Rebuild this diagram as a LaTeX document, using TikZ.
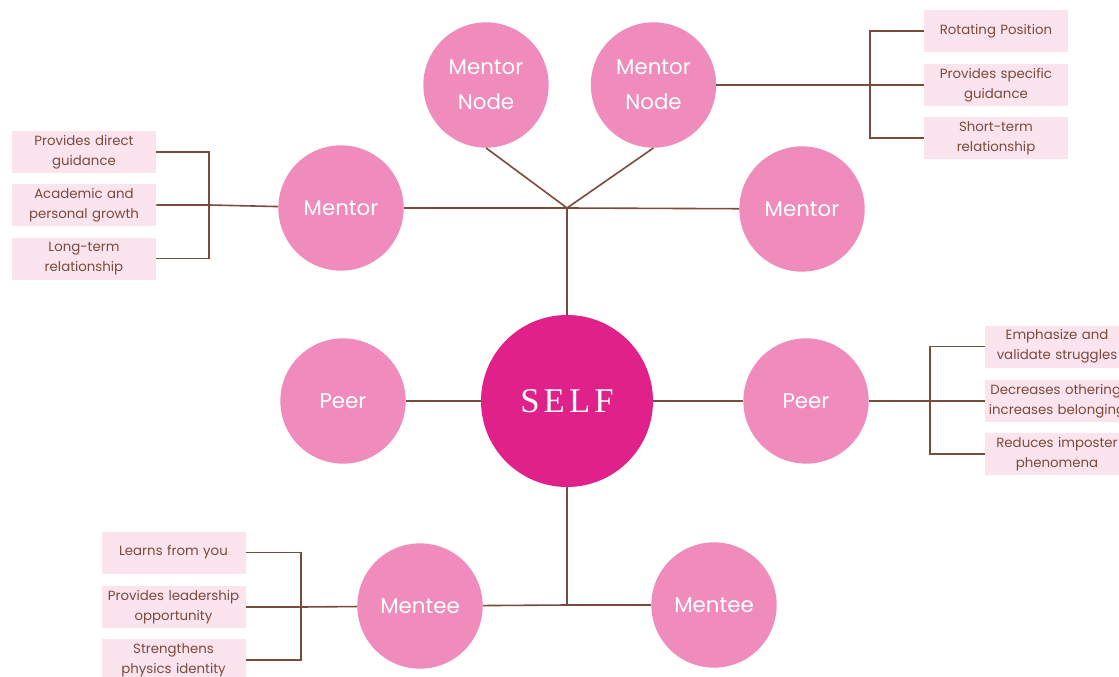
\documentclass[tikz,border=0pt]{standalone}
\usepackage{fontspec}
\setmainfont{Poppins}
\newfontfamily\selffont[LetterSpace=12]{Liberation Serif}
\usetikzlibrary{positioning,calc}

\definecolor{selfpink}{HTML}{E0218A}
\definecolor{rolepink}{HTML}{F08CBB}
\definecolor{notepink}{HTML}{FCE4EF}
\definecolor{linebrown}{HTML}{7A4A3A}

\begin{document}
\begin{tikzpicture}[x=0.75pt, y=-0.75pt, every node/.style = {align=center}]
			\tikzset{
				role/.style = {circle, fill=rolepink, text=white, minimum size=94pt, inner sep=0pt,
					font=\fontsize{16}{26}\selectfont},
				self/.style = {circle, fill=selfpink, text=white, minimum size=129pt, inner sep=0pt,
					font=\selffont\fontsize{26}{30}\selectfont},
				note/.style = {rectangle, fill=notepink, text=linebrown, minimum width=108pt, text width=104pt,
					minimum height=31.5pt, inner sep=0pt, font=\fontsize{10}{15}\selectfont},
				link/.style = {draw=linebrown, line width=1.2pt}
			}

			\path[use as bounding box, clip] (0,0) rectangle (1119,677);

			% circles
			\node [self] (self) at (567,401) {SELF};
			\node [role] (mentorL) at (341,208) {Mentor};
			\node [role] (mentorR) at (802,209) {Mentor};
			\node [role] (nodeA) at (486,85) {Mentor\\Node};
			\node [role] (nodeB) at (653.5,85) {Mentor\\Node};
			\node [role] (peerL) at (343,401) {Peer};
			\node [role] (peerR) at (806,401) {Peer};
			\node [role] (menteeL) at (420,606) {Mentee};
			\node [role] (menteeR) at (714,605) {Mentee};

			% notes
			\node [note] (direct) at (84,152) {Provides direct\\guidance};
			\node [note] (growth) at (84,205) {Academic and\\personal growth};
			\node [note] (longterm) at (84,258.5) {Long-term\\relationship};

			\node [note] (rotating) at (996,31) {Rotating Position};
			\node [note] (specific) at (996,85) {Provides specific\\guidance};
			\node [note] (shortterm) at (996,138) {Short-term\\relationship};

			\node [note] (struggle) at (1057,346.5) {Emphasize and\\validate struggles};
			\node [note] (othering) at (1057,401) {Decreases othering,\\increases belonging};
			\node [note] (imposter) at (1057,454) {Reduces imposter\\phenomena};

			\node [note] (learns) at (173.5,552.5) {Learns from you};
			\node [note] (leader) at (173.5,607) {Provides leadership\\opportunity};
			\node [note] (identity) at (173.5,660) {Strengthens\\physics identity};

			% joints
			\coordinate (hub) at (567,208);
			\coordinate (base) at (567,605);
			\coordinate (mentorBr) at (209,205);
			\coordinate (nodeBr) at (870,85);
			\coordinate (peerBr) at (930,401);
			\coordinate (menteeBr) at (301,607);

			% links
			\draw [link] (mentorL) -- (hub) -- (mentorR);
			\draw [link] (nodeA.south) -- (hub) -- (nodeB.south);
			\draw [link] (hub) -- (self);
			\draw [link] (peerL) -- (self) -- (peerR);
			\draw [link] (self) -- (base);
			\draw [link] (menteeL) -- (base) -- (menteeR);

			\draw [link] (direct.east) -| (mentorBr);
			\draw [link] (longterm.east) -| (mentorBr);
			\draw [link] (growth.east) -- (mentorBr) -- (mentorL);

			\draw [link] (rotating.west) -| (nodeBr);
			\draw [link] (shortterm.west) -| (nodeBr);
			\draw [link] (specific.west) -- (nodeBr) -- (nodeB);

			\draw [link] (struggle.west) -| (peerBr);
			\draw [link] (imposter.west) -| (peerBr);
			\draw [link] (othering.west) -- (peerBr) -- (peerR);

			\draw [link] (learns.east) -| (menteeBr);
			\draw [link] (identity.east) -| (menteeBr);
			\draw [link] (leader.east) -- (menteeBr) -- (menteeL);
		\end{tikzpicture}
\end{document}
